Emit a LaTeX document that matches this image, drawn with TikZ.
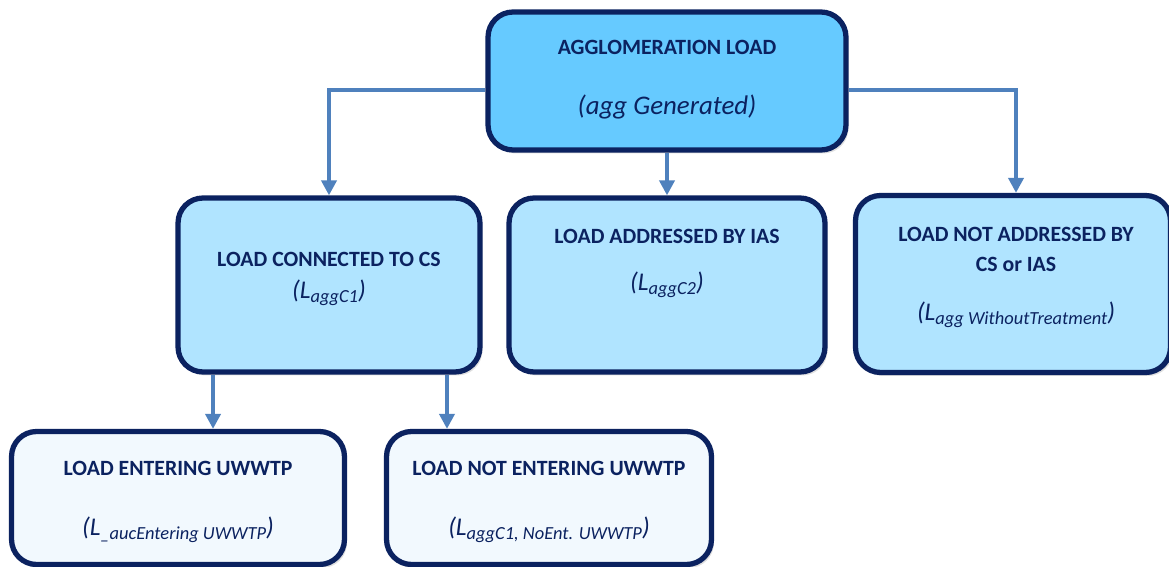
\documentclass[tikz,border=0pt]{standalone}
\usepackage{fontspec}
\setmainfont{Carlito}
\usetikzlibrary{arrows.meta,shadows}
\definecolor{navy}{HTML}{0B2260}
\definecolor{toplevel}{HTML}{66CAFF}
\definecolor{midlevel}{HTML}{B0E4FF}
\definecolor{lowlevel}{HTML}{F2F9FE}
\definecolor{link}{HTML}{4F81BD}
\newcommand{\subtxt}[1]{\raisebox{-0.35ex}{\fontsize{10.5}{10.5}\selectfont #1}}
\tikzset{
    loadbox/.style={draw=navy, line width=3pt, rounded corners=0.5cm, drop shadow={opacity=0.25, shadow xshift=0.05cm, shadow yshift=-0.07cm}}, % boxes
    title/.style={font=\fontsize{12.4}{15}\selectfont\bfseries, text=navy, align=center},
    formula/.style={font=\fontsize{14.5}{16}\selectfont\itshape, text=navy},
    flow/.style={draw=link, line width=2.2pt, -{Triangle[length=0.3cm, width=0.3cm]}}
}

\begin{document}
\begin{tikzpicture}[x=0.02cm, y=-0.02cm]
    \useasboundingbox (0,0) rectangle (1169,567);
    \clip (0,0) rectangle (1169,567);

    % boxes
    \node[loadbox, fill=toplevel, minimum width=7.16cm, minimum height=2.76cm] (agg) at (667,81) {};
    \node[loadbox, fill=midlevel, minimum width=6.04cm, minimum height=3.48cm] (cs) at (329,285) {};
    \node[loadbox, fill=midlevel, minimum width=6.32cm, minimum height=3.48cm] (ias) at (667,285) {};
    \node[loadbox, fill=midlevel, minimum width=6.3cm, minimum height=3.54cm] (none) at (1013,284) {};
    \node[loadbox, fill=lowlevel, minimum width=6.66cm, minimum height=2.66cm] (ent) at (178,498) {};
    \node[loadbox, fill=lowlevel, minimum width=6.5cm, minimum height=2.66cm] (noent) at (549,498) {};

    % texts
    \node[title] (aggT) at (667,47) {AGGLOMERATION LOAD};
    \node[formula, font=\fontsize{15.3}{18}\selectfont\itshape] (aggF) at (667,107) {(agg Generated)};
    \node[title] (csT) at (329,259) {LOAD CONNECTED TO CS};
    \node[formula] (csF) at (329,293) {(L\subtxt{aggC1})};
    \node[title] (iasT) at (667,236) {LOAD ADDRESSED BY IAS};
    \node[formula] (iasF) at (667,285) {(L\subtxt{aggC2})};
    \node[title] (noneT1) at (1016,234) {LOAD NOT ADDRESSED BY};
    \node[title] (noneT2) at (1016,264) {CS or IAS};
    \node[formula] (noneF) at (1016,315) {(L\subtxt{agg WithoutTreatment})};
    \node[title] (entT) at (178,468) {LOAD ENTERING UWWTP};
    \node[formula] (entF) at (178,530) {(L\subtxt{\_aucEntering UWWTP})};
    \node[title] (noentT) at (549,468) {LOAD NOT ENTERING UWWTP};
    \node[formula] (noentF) at (549,530) {(L\subtxt{aggC1, NoEnt. UWWTP})};

    % connectors
    \draw[flow] ([yshift=-0.18cm]agg.west) -| ([xshift=0cm]cs.north);
    \draw[flow] (agg.south) -- (ias.north);
    \draw[flow] ([yshift=-0.18cm]agg.east) -| ([xshift=0.06cm]none.north);
    \draw[flow] ([xshift=-2.32cm]cs.south) -- ([xshift=-2.32cm]cs.south |- ent.north);
    \draw[flow] ([xshift=2.36cm]cs.south) -- ([xshift=2.36cm]cs.south |- noent.north);
\end{tikzpicture}
\end{document}
